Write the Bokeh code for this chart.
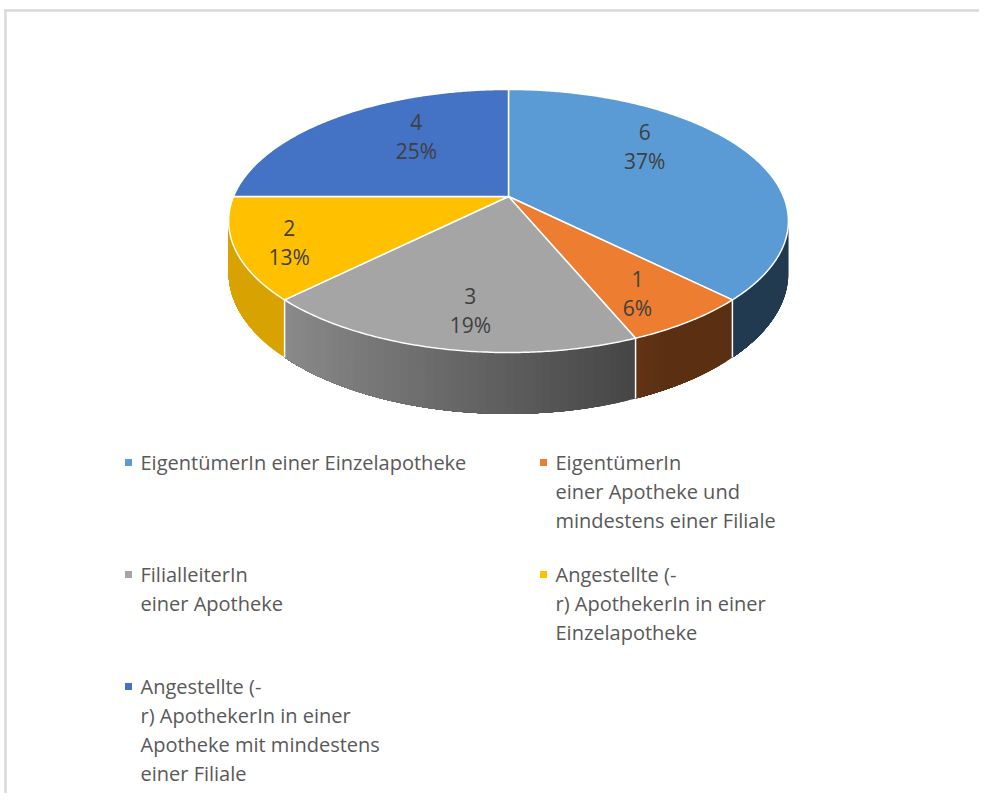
import numpy as np
from bokeh.plotting import figure
from bokeh.models import Range1d
from bokeh.core.properties import value
from bokeh.embed import file_html
from bokeh.resources import INLINE

# ---------------- data ----------------
categories = [
    "EigentümerIn einer Einzelapotheke",
    "EigentümerIn\neiner Apotheke und\nmindestens einer Filiale",
    "FilialleiterIn\neiner Apotheke",
    "Angestellte (-\nr) ApothekerIn in einer\nEinzelapotheke",
    "Angestellte (-\nr) ApothekerIn in einer\nApotheke mit mindestens\neiner Filiale",
]
counts = [6, 1, 3, 2, 4]
pct_labels = ["37%", "6%", "19%", "13%", "25%"]

# ---------------- styles ----------------
colors = ["#5B9BD5", "#ED7D31", "#A5A5A5", "#FFC000", "#4472C4"]
label_nudge = [(-10, -23), (28, 27), (-2, 30), (-60, 15), (16, -11)]  # px, placement tweaks
FONT = "Open Sans"
W, H = 979, 793
X0, Y0 = 0, 0

# pie geometry (pixels)
CX, CY = 508.0, 196.0
RX, RY = 275.0, 127.0
PERSP = 0.186
DEPTH = 50.0

p = figure(width=W, height=H, output_backend="svg", toolbar_location=None,
           x_range=Range1d(X0, X0 + W), y_range=Range1d(Y0 + H, Y0),
           min_border=0)
p.axis.visible = False
p.grid.visible = False
p.outline_line_color = None
p.background_fill_color = "white"
p.border_fill_color = "white"

# frame (top and left)
p.segment(x0=[4, 5], y0=[10, 9], x1=[X0 + W, 5], y1=[10, Y0 + H],
          line_color="#d9d9d9", line_width=2.5)


def proj(theta, r=1.0):
    """theta: radians clockwise from 12 o'clock"""
    u = np.sin(theta) * r
    v = np.cos(theta) * r
    w = 1 + PERSP * v
    return CX + RX * u / w, CY - RY * v / w, w


total = float(sum(counts))
fracs = np.array(counts) / total
starts = np.concatenate([[0], np.cumsum(fracs)[:-1]]) * 2 * np.pi
ends = np.cumsum(fracs) * 2 * np.pi

# visible side range (silhouette)
t_lo = np.arccos(-PERSP)
t_hi = 2 * np.pi - t_lo


def shade(hexcol, f):
    h = hexcol.lstrip("#")
    rgb = [int(h[i:i + 2], 16) for i in (0, 2, 4)]
    return "#%02x%02x%02x" % tuple(int(max(0, min(255, c * f))) for c in rgb)


# ---- side walls (overlapping strips -> smooth gradient, no seams) ----
qx, qy, qc = [], [], []
edge_lines_x, edge_lines_y = [], []
for i, (a, b) in enumerate(zip(starts, ends)):
    lo, hi = max(a, t_lo), min(b, t_hi)
    if hi <= lo:
        continue
    n = max(2, int((hi - lo) / np.radians(1.5)))
    ts = np.linspace(lo, hi, n + 1)
    for k in range(n):
        seg = np.linspace(ts[k], hi, max(2, int((hi - ts[k]) / np.radians(0.5)) + 1))
        xs, ys, ws = proj(seg)
        um = np.sin(ts[k] + (ts[1] - ts[0]) / 2)
        f = float(np.clip(0.568 - 0.385 * um, 0.38, 0.85))
        qx.append(np.concatenate([xs, xs[::-1]]))
        qy.append(np.concatenate([ys, (ys + DEPTH / ws)[::-1]]))
        qc.append(shade(colors[i], f))
p.patches(qx, qy, fill_color=qc, line_color=None)

# white vertical edges on side at slice boundaries
for a in starts:
    if t_lo < a < t_hi:
        x_, y_, w_ = proj(a)
        edge_lines_x.append([x_, x_])
        edge_lines_y.append([y_, y_ + DEPTH / w_])
p.multi_line(edge_lines_x, edge_lines_y, line_color="white", line_width=1.5)

# ---- top surfaces ----
tx, ty = [], []
for a, b in zip(starts, ends):
    ts = np.linspace(a, b, max(3, int((b - a) / np.radians(0.5))))
    xs, ys, _ = proj(ts)
    tx.append(np.concatenate([[CX], xs]))
    ty.append(np.concatenate([[CY], ys]))
p.patches(tx, ty, fill_color=colors, line_color="white", line_width=1.5)

# ---- data labels ----
mids = (starts + ends) / 2
lx, ly, _ = proj(mids, 0.6)
lx = lx + np.array([d[0] for d in label_nudge])
ly = ly + np.array([d[1] for d in label_nudge])
p.text(lx, ly, text=[str(c) for c in counts], text_font=value(FONT),
       text_font_size="21px", text_color="#404040", text_align="center",
       text_baseline="middle", y_offset=-14)
p.text(lx, ly, text=pct_labels, text_font=value(FONT),
       text_font_size="21px", text_color="#404040", text_align="center",
       text_baseline="middle", y_offset=15)

# ---- legend (manual, two columns) ----
col_x = [128, 543]
row_y0 = 462
line_h = 29
row_gap = 25
mx, my, mc = [], [], []
txs, tys, tts = [], [], []
y_row = row_y0
for r0 in range(0, len(categories), 2):
    row_items = list(range(r0, min(r0 + 2, len(categories))))
    max_lines = 1
    for k, i in enumerate(row_items):
        lines = categories[i].split("\n")
        max_lines = max(max_lines, len(lines))
        mx.append(col_x[k]); my.append(y_row); mc.append(colors[i])
        for j, ln in enumerate(lines):
            txs.append(col_x[k] + 12); tys.append(y_row + j * line_h); tts.append(ln)
    y_row += max_lines * line_h + row_gap

p.scatter(mx, my, marker="square", size=7, fill_color=mc, line_color=None)
p.text(txs, tys, text=tts, text_font=value(FONT), text_font_size="20px",
       text_color="#595959", text_align="left", text_baseline="middle")

open("out.html", "w").write(file_html(p, INLINE))
